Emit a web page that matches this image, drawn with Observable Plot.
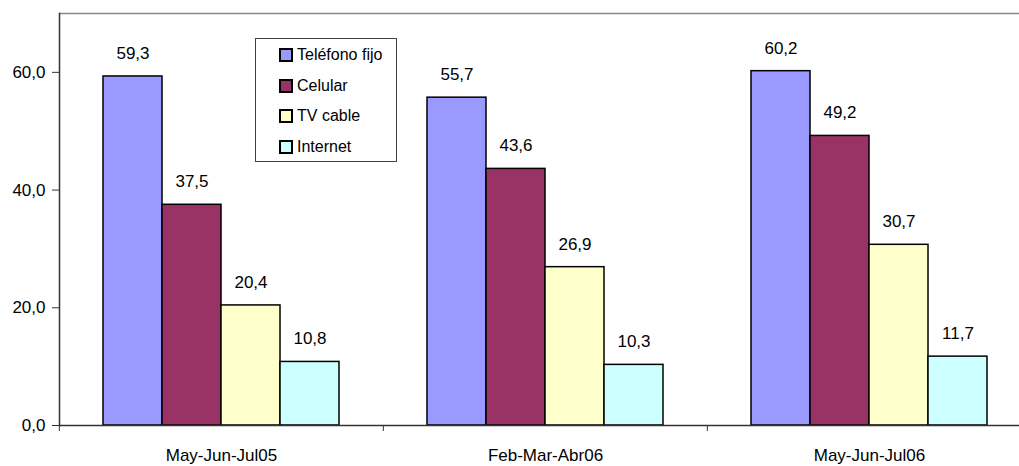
<!DOCTYPE html>
<html>
<head>
<meta charset="utf-8">
<script src="https://cdn.jsdelivr.net/npm/d3@7"></script>
<script src="https://cdn.jsdelivr.net/npm/@observablehq/plot@0.6"></script>
<style>
  html, body { margin: 0; padding: 0; background: white; overflow: hidden; }
  #wrap { position: relative; width: 1019px; height: 466px; font-family: Arial, "Liberation Sans", sans-serif; }
  #legend { position: absolute; left: 255px; top: 38px; width: 142px; height: 124px; border: 1px solid #404040; background: white; box-sizing: border-box; }
  .item { position: absolute; left: 23px; height: 16px; display: flex; align-items: center; font-size: 16px; color: black; white-space: nowrap; }
  .sw { width: 10px; height: 10px; border: 2px solid black; margin-right: 4px; flex: none; }
</style>
</head>
<body>
<div id="wrap"></div>
<script>
const categories = ["May-Jun-Jul05", "Feb-Mar-Abr06", "May-Jun-Jul06"];
const series = ["Teléfono fijo", "Celular", "TV cable", "Internet"];
const telefonoFijo = [59.3, 55.7, 60.2];
const celular = [37.5, 43.6, 49.2];
const tvCable = [20.4, 26.9, 30.7];
const internet = [10.8, 10.3, 11.7];
const colors = ["#9999FF", "#993366", "#FFFFCC", "#CCFFFF"];
const yTicks = [0, 20, 40, 60];

const seriesValues = [telefonoFijo, celular, tvCable, internet];
const data = [];
categories.forEach((c, i) => {
  series.forEach((s, j) => data.push({cat: c, series: s, value: seriesValues[j][i]}));
});

const fmt = d => d.toFixed(1).replace(".", ",");
const fxRange = [58, 1031];
const fxBand = (fxRange[1] - fxRange[0]) / categories.length;

const chart = Plot.plot({
  width: 1019,
  height: 466,
  marginLeft: 58,
  marginRight: 0,
  marginTop: 13,
  marginBottom: 41,
  style: {fontFamily: 'Arial, "Liberation Sans", sans-serif', fontSize: "17px", color: "black", background: "white", overflow: "hidden"},
  fx: {domain: categories, range: fxRange, padding: 0},
  x: {domain: series, paddingInner: 0, paddingOuter: 0.737, axis: null},
  y: {domain: [0, 70]},
  color: {domain: series, range: colors},
  marks: [
    Plot.ruleY([70], {stroke: "#888888", strokeWidth: 1.5}),
    Plot.barY(data, {fx: "cat", x: "series", y: "value", fill: "series", stroke: "black", strokeWidth: 1.5}),
    Plot.text(data, {fx: "cat", x: "series", y: "value", text: d => fmt(d.value), dy: -23, fill: "black", fontSize: 17}),
    Plot.ruleY([0], {stroke: "#333333", strokeWidth: 1.5}),
    Plot.frame({anchor: "left", facetAnchor: "left", stroke: "#333333", strokeWidth: 1.5}),
    Plot.axisY({ticks: yTicks, tickFormat: fmt, tickSize: 7, tickPadding: 7, stroke: "#333333", fill: "black", fontSize: 17, label: null}),
    Plot.axisFx({anchor: "bottom", text: null, tickSize: 6, dx: -fxBand / 2, stroke: "#333333", label: null}),
    Plot.axisFx({anchor: "bottom", tickSize: 0, tickPadding: 23, fill: "black", fontSize: 17, label: null})
  ]
});

const wrap = document.getElementById("wrap");
wrap.appendChild(chart);

const legend = document.createElement("div");
legend.id = "legend";
series.forEach((s, j) => {
  const item = document.createElement("div");
  item.className = "item";
  item.style.top = (8 + j * 30.7) + "px";
  const sw = document.createElement("span");
  sw.className = "sw";
  sw.style.background = colors[j];
  const t = document.createElement("span");
  t.textContent = s;
  item.appendChild(sw);
  item.appendChild(t);
  legend.appendChild(item);
});
wrap.appendChild(legend);
</script>
</body>
</html>
